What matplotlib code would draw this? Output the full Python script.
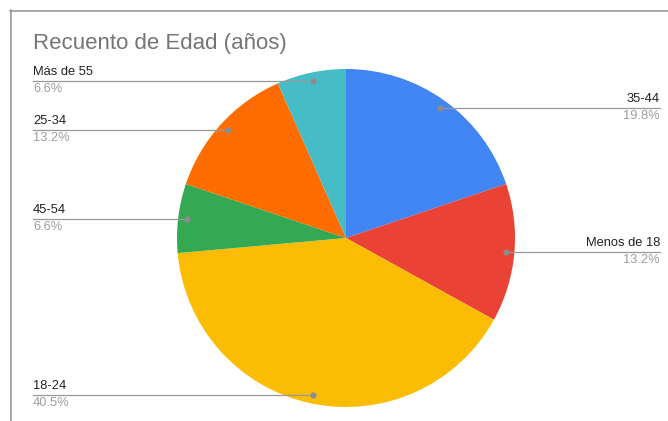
import numpy as np
import matplotlib.pyplot as plt

plt.rcParams['font.family'] = ['Liberation Sans', 'DejaVu Sans']

# datos del gráfico (sentido horario desde arriba)
labels = ["35-44", "Menos de 18", "18-24", "45-54", "25-34", "Más de 55"]
values = [19.8, 13.2, 40.5, 6.6, 13.2, 6.6]
pct_labels = ["19.8%", "13.2%", "40.5%", "6.6%", "13.2%", "6.6%"]
colors = ["#4285F4", "#EA4335", "#FBBC04", "#34A853", "#FF6D01", "#46BDC6"]

W, H = 668, 421
fig = plt.figure(figsize=(W / 100, H / 100), dpi=100)
ax = fig.add_axes([0, 0, 1, 1])

cx, cy, R = 346, H - 238, 169
wedges, _ = ax.pie(values, colors=colors, startangle=90, counterclock=False,
                   center=(cx, cy), radius=R, frame=True)
ax.set_xlim(0, W)
ax.set_ylim(0, H)
ax.set_aspect("equal")
ax.axis("off")

# borde del gráfico
ax.plot([11, 11], [0, H - 10], color="#9a9a9a", lw=1.2)
ax.plot([10, W], [H - 11, H - 11], color="#9a9a9a", lw=1.2)

ax.text(33, H - 44, "Recuento de Edad (años)", fontsize=16, color="#757575",
        va="center", ha="left")

for w, lab, pct in zip(wedges, labels, pct_labels):
    mid = np.deg2rad((w.theta1 + w.theta2) / 2)
    dx = cx + 0.95 * R * np.cos(mid)
    dy = cy + 0.95 * R * np.sin(mid)
    if np.cos(mid) >= 0:
        tx, ha = 660, "right"
    else:
        tx, ha = 33, "left"
    ax.plot([tx, dx], [dy, dy], color="#999999", lw=0.9)
    ax.plot(dx, dy, "o", color="#8c8c8c", ms=3.5)
    ax.text(tx, dy + 3, lab, fontsize=9.3, color="#222222", ha=ha, va="bottom")
    ax.text(tx, dy - 2, pct, fontsize=9.3, color="#9e9e9e", ha=ha, va="top")

fig.savefig("out.png", dpi=100)
